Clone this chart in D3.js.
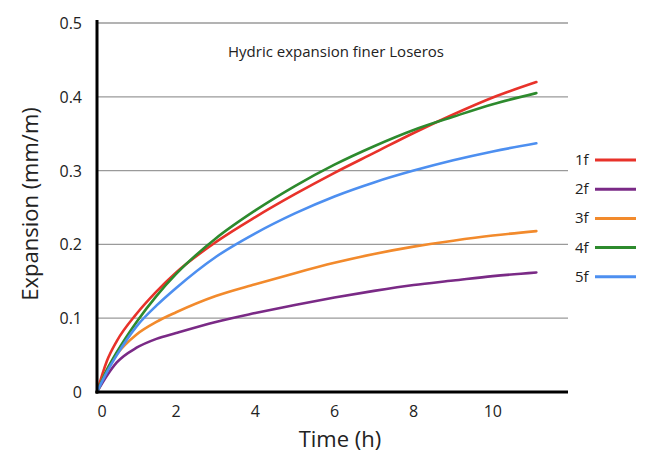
<!DOCTYPE html>
<html>
<head>
<meta charset="utf-8">
<script src="https://cdn.jsdelivr.net/npm/d3@7"></script>
<style>
  body { margin: 0; background: #fff; }
  text { font-family: "Open Sans", sans-serif; fill: #222; }
</style>
</head>
<body>
<svg width="646" height="453"></svg>
<script>
// hours where the curves were read
const hours = [0, 0.25, 0.5, 1, 1.5, 2, 3, 4, 5, 6, 7, 8, 9, 10, 11.1];

const s1f = [0, 0.042, 0.069, 0.106, 0.136, 0.162, 0.203, 0.237, 0.268, 0.297, 0.324, 0.351, 0.376, 0.399, 0.42];
const s2f = [0, 0.022, 0.04, 0.06, 0.072, 0.08, 0.095, 0.107, 0.118, 0.128, 0.137, 0.145, 0.151, 0.157, 0.162];
const s3f = [0, 0.03, 0.051, 0.078, 0.095, 0.108, 0.13, 0.146, 0.161, 0.175, 0.187, 0.197, 0.205, 0.212, 0.218];
const s4f = [0, 0.03, 0.054, 0.095, 0.13, 0.16, 0.208, 0.246, 0.279, 0.308, 0.333, 0.355, 0.373, 0.39, 0.405];
const s5f = [0, 0.027, 0.05, 0.089, 0.117, 0.141, 0.183, 0.215, 0.242, 0.265, 0.284, 0.3, 0.314, 0.326, 0.337];

const seriesNames = ["1f", "2f", "3f", "4f", "5f"];
const colors = ["#e8322a", "#7a2a86", "#f28a2c", "#2d8a2d", "#4d8ff0"];
const xTicks = [0, 2, 4, 6, 8, 10];
const yTicks = [0, 0.1, 0.2, 0.3, 0.4, 0.5];

const series = [s1f, s2f, s3f, s4f, s5f].map((vals, i) => ({
  name: seriesNames[i],
  color: colors[i],
  points: vals.map((v, j) => [hours[j], v])
}));

const svg = d3.select("svg");

const x = d3.scaleLinear().domain([0, 11.9]).range([97, 568]);
const y = d3.scaleLinear().domain([0, 0.5]).range([392, 23]);

// gridlines
svg.append("g")
  .selectAll("line")
  .data(yTicks.filter(d => d > 0))
  .join("line")
  .attr("x1", x(0)).attr("x2", x(11.9))
  .attr("y1", d => y(d)).attr("y2", d => y(d))
  .attr("stroke", "#9a9a9a")
  .attr("stroke-width", 1.3);

// curves
const line = d3.line()
  .x(d => x(d[0]))
  .y(d => y(d[1]))
  .curve(d3.curveMonotoneX);

svg.append("g")
  .selectAll("path")
  .data(series)
  .join("path")
  .attr("d", d => line(d.points))
  .attr("fill", "none")
  .attr("stroke", d => d.color)
  .attr("stroke-width", 2.6)
  .attr("stroke-linecap", "round");

// axes (drawn by hand, tick labels only)
svg.append("line")
  .attr("x1", x(0)).attr("x2", x(0))
  .attr("y1", y(0.5) - 3).attr("y2", y(0) + 1.5)
  .attr("stroke", "#000").attr("stroke-width", 3);
svg.append("line")
  .attr("x1", x(0) - 1.5).attr("x2", x(11.9))
  .attr("y1", y(0)).attr("y2", y(0))
  .attr("stroke", "#000").attr("stroke-width", 3);

svg.append("g")
  .selectAll("text")
  .data(yTicks)
  .join("text")
  .attr("x", 82)
  .attr("y", d => y(d) + 6)
  .attr("text-anchor", "end")
  .style("font-size", "16px")
  .text(d => d === 0 ? "0" : d3.format(".1f")(d));

svg.append("g")
  .selectAll("text")
  .data(xTicks)
  .join("text")
  .attr("x", d => x(d) + (d === 0 ? 5 : 0))
  .attr("y", 417)
  .attr("text-anchor", "middle")
  .style("font-size", "16px")
  .text(d => d);

// titles
svg.append("text")
  .attr("x", 336).attr("y", 57)
  .attr("text-anchor", "middle")
  .style("font-size", "15px")
  .text("Hydric expansion finer Loseros");

svg.append("text")
  .attr("x", 340).attr("y", 447)
  .attr("text-anchor", "middle")
  .style("font-size", "22px")
  .text("Time (h)");

svg.append("text")
  .attr("transform", "translate(38,204) rotate(-90)")
  .attr("text-anchor", "middle")
  .style("font-size", "22px")
  .text("Expansion (mm/m)");

// legend
const legend = svg.append("g")
  .selectAll("g")
  .data(series)
  .join("g")
  .attr("transform", (d, i) => `translate(0,${160 + i * 29.2})`);

legend.append("text")
  .attr("x", 575).attr("y", 5)
  .style("font-size", "15px")
  .text(d => d.name);

legend.append("line")
  .attr("x1", 595).attr("x2", 636)
  .attr("y1", 0).attr("y2", 0)
  .attr("stroke", d => d.color)
  .attr("stroke-width", 3);
</script>
</body>
</html>
